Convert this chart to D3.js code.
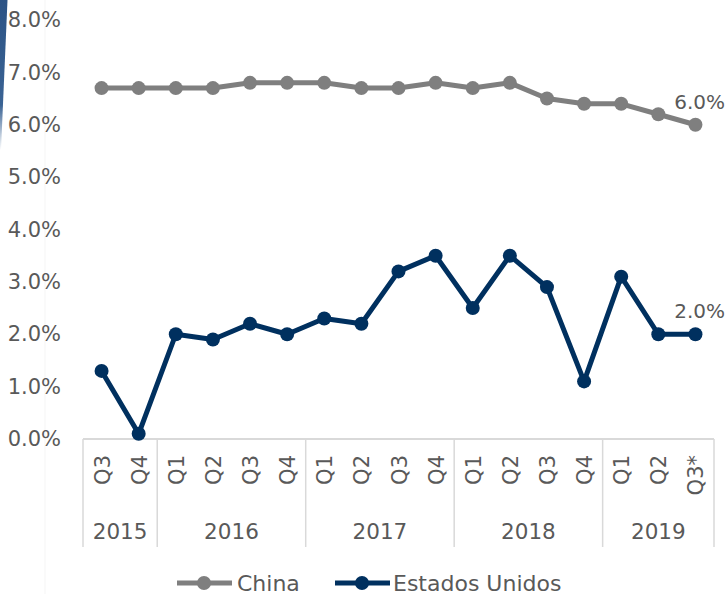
<!DOCTYPE html>
<html>
<head>
<meta charset="utf-8">
<script src="https://cdn.jsdelivr.net/npm/d3@7"></script>
<style>
html,body{margin:0;padding:0;background:#fff;}
svg{display:block;}
text{font-family:"DejaVu Sans",sans-serif;fill:#595959;}
</style>
</head>
<body>
<svg id="chart" width="726" height="594"></svg>
<script>
const quarters = ["Q3","Q4","Q1","Q2","Q3","Q4","Q1","Q2","Q3","Q4","Q1","Q2","Q3","Q4","Q1","Q2","Q3*"];
const years = [
  {label:"2015", start:0, end:2},
  {label:"2016", start:2, end:6},
  {label:"2017", start:6, end:10},
  {label:"2018", start:10, end:14},
  {label:"2019", start:14, end:17}
];
const china = [6.7,6.7,6.7,6.7,6.8,6.8,6.8,6.7,6.7,6.8,6.7,6.8,6.5,6.4,6.4,6.2,6.0];
const usa   = [1.3,0.1,2.0,1.9,2.2,2.0,2.3,2.2,3.2,3.5,2.5,3.5,2.9,1.1,3.1,2.0,2.0];
const yTicks = [0,1,2,3,4,5,6,7,8];
const seriesNames = ["China","Estados Unidos"];
const colors = ["#7f7f7f","#00305f"];

const svg = d3.select("#chart");
const x0 = 83, x1 = 714, yBottom = 439, yTop = 20;

// decorative stripe
const defs = svg.append("defs");
const grad = defs.append("linearGradient").attr("id","stripe").attr("x1",0).attr("y1",0).attr("x2",0).attr("y2",1);
grad.append("stop").attr("offset","0%").attr("stop-color","#2c5385");
grad.append("stop").attr("offset","70%").attr("stop-color","#3a6394");
grad.append("stop").attr("offset","100%").attr("stop-color","#ffffff");
svg.append("path").attr("d","M0,0 L7.5,0 L1,150 L0,150 Z").attr("fill","url(#stripe)");
svg.append("line").attr("x1",45).attr("x2",45).attr("y1",0).attr("y2",594).attr("stroke","#f5f5f5").attr("stroke-width",1);

const x = d3.scaleBand().domain(d3.range(quarters.length)).range([x0,x1]);
const y = d3.scaleLinear().domain([0,8]).range([yBottom,yTop]);
const cx = i => x(i) + x.bandwidth()/2;

// y axis labels
const yAxis = d3.axisLeft(y).tickValues(yTicks).tickFormat(d => d.toFixed(1)+"%").tickSize(0).tickPadding(0);
const yg = svg.append("g").attr("transform","translate(61,0)").call(yAxis);
yg.select(".domain").remove();
yg.selectAll("text").style("font-size","21px").attr("fill","#595959").attr("font-family","DejaVu Sans");

// x axis line
svg.append("line").attr("x1",x0).attr("x2",x1).attr("y1",yBottom).attr("y2",yBottom).attr("stroke","#d9d9d9").attr("stroke-width",2);
// separators
const seps = [0].concat(years.map(d=>d.end));
svg.selectAll(".sep").data(seps).enter().append("line")
  .attr("x1",d=> d===quarters.length ? x1 : x(d)).attr("x2",d=> d===quarters.length ? x1 : x(d))
  .attr("y1",yBottom).attr("y2",547).attr("stroke","#d9d9d9").attr("stroke-width",1.5);

// quarter labels
svg.selectAll(".q").data(quarters).enter().append("text")
  .attr("transform",(d,i)=>`translate(${cx(i)+1},455) rotate(-90)`)
  .attr("text-anchor","end").attr("dominant-baseline","central")
  .style("font-size","21px").text(d=>d);

// year labels
svg.selectAll(".yr").data(years).enter().append("text")
  .attr("x",d=> ((d.start===0?x0:x(d.start)) + (d.end===quarters.length?x1:x(d.end)))/2)
  .attr("y",539).attr("text-anchor","middle").style("font-size","21.5px").text(d=>d.label);

// lines
const line = d3.line().x((d,i)=>cx(i)).y(d=>y(d));
[china,usa].forEach((s,k)=>{
  svg.append("path").datum(s).attr("d",line).attr("fill","none").attr("stroke",colors[k]).attr("stroke-width",5).attr("stroke-linejoin","round");
  svg.selectAll(".pt"+k).data(s).enter().append("circle")
    .attr("cx",(d,i)=>cx(i)).attr("cy",d=>y(d)).attr("r",7).attr("fill",colors[k]);
  const last = s.length-1;
  svg.append("text").attr("x",725).attr("y",y(s[last])-16).attr("text-anchor","end")
    .style("font-size","20px").text(s[last].toFixed(1)+"%");
});

// legend
const legend = [{x:177,tx:237},{x:335,tx:393}];
legend.forEach((L,k)=>{
  const g = svg.append("g");
  g.append("line").attr("x1",L.x).attr("x2",L.x+55).attr("y1",583).attr("y2",583).attr("stroke",colors[k]).attr("stroke-width",5);
  g.append("circle").attr("cx",L.x+27).attr("cy",583).attr("r",7).attr("fill",colors[k]);
  g.append("text").attr("x",L.tx).attr("y",583).attr("dominant-baseline","central").style("font-size","22px").text(seriesNames[k]);
});
</script>
</body>
</html>
